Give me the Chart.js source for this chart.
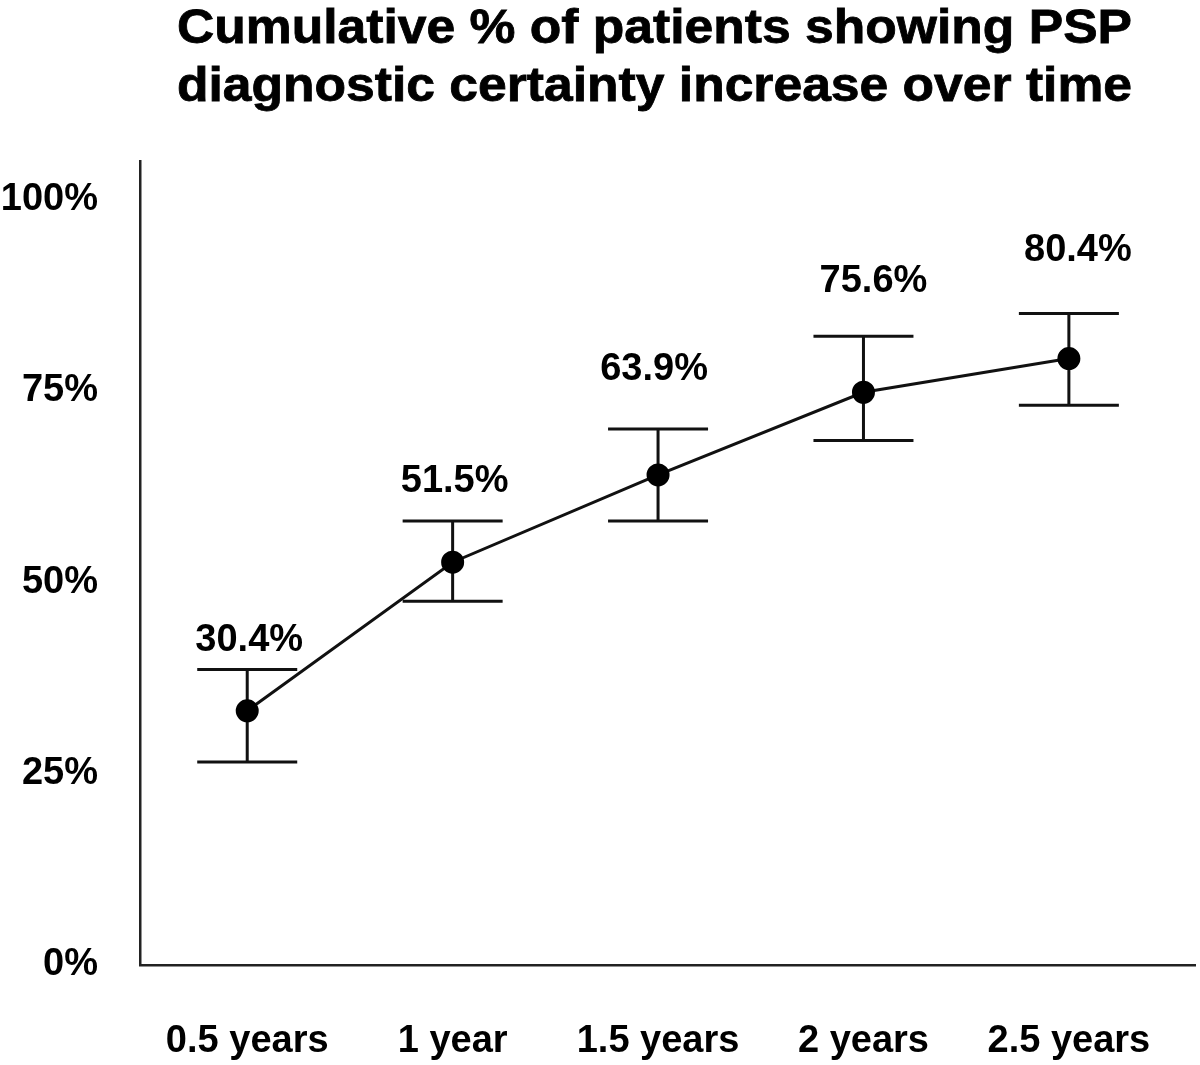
<!DOCTYPE html>
<html lang="en">
<head>
<meta charset="UTF-8">
<title>Cumulative % of patients showing PSP diagnostic certainty increase over time</title>
<script src="https://cdn.jsdelivr.net/npm/chart.js"></script>
<style>
  body, html { margin: 0; padding: 0; background: #fff; overflow: hidden; }
  #wrap { width: 1200px; height: 1065px; }
</style>
</head>
<body>
<div id="wrap"><canvas id="chart"></canvas></div>
<script>
const titleLines = ['Cumulative % of patients showing PSP', 'diagnostic certainty increase over time'];
const timepoints = [0.5, 1, 1.5, 2, 2.5];
const timeLabels = ['0.5 years', '1 year', '1.5 years', '2 years', '2.5 years'];
const meanPct = [33.2, 52.6, 64.0, 74.8, 79.2];
const upperPct = [38.6, 58.0, 70.0, 82.1, 85.1];
const lowerPct = [26.5, 47.5, 58.0, 68.5, 73.1];
const valueLabels = ['30.4%', '51.5%', '63.9%', '75.6%', '80.4%'];
const yTicks = [0, 25, 50, 75, 100];

// nudges for the % labels, px above the upper cap / sideways
const labelGap = [29, 39, 59, 55, 63];
const labelDx = [2, 2, -4, 10, 9];

const FONT = "'Liberation Sans', Arial, sans-serif";
const INK = '#111';

const errorBars = {
    id: 'errorBars',
    beforeDatasetsDraw(chart) {
        const { ctx, scales: { x, y } } = chart;
        ctx.save();
        ctx.strokeStyle = INK;
        ctx.lineWidth = 3;
        timepoints.forEach((t, i) => {
            const px = x.getPixelForValue(t);
            const top = y.getPixelForValue(upperPct[i]);
            const bot = y.getPixelForValue(lowerPct[i]);
            ctx.beginPath();
            ctx.moveTo(px, top); ctx.lineTo(px, bot);
            ctx.moveTo(px - 50, top); ctx.lineTo(px + 50, top);
            ctx.moveTo(px - 50, bot); ctx.lineTo(px + 50, bot);
            ctx.stroke();
        });
        ctx.restore();
    },
    afterDatasetsDraw(chart) {
        const { ctx, scales: { x, y } } = chart;
        ctx.save();
        ctx.fillStyle = '#000';
        ctx.font = `bold 38px ${FONT}`;
        ctx.textAlign = 'center';
        ctx.textBaseline = 'middle';
        timepoints.forEach((t, i) => {
            const px = x.getPixelForValue(t) + labelDx[i];
            const top = y.getPixelForValue(upperPct[i]);
            ctx.fillText(valueLabels[i], px, top - labelGap[i]);
        });
        ctx.restore();
    }
};

// title in the source is a wide-set heavy sans: stretch it to its span
const stretchedTitle = {
    id: 'stretchedTitle',
    afterDraw(chart) {
        const ctx = chart.ctx;
        const left = 177, span = 955;
        const baselines = [43, 101];
        ctx.save();
        ctx.fillStyle = '#000';
        ctx.strokeStyle = '#000';
        ctx.lineWidth = 0.8;
        ctx.font = `bold 48px ${FONT}`;
        ctx.textAlign = 'left';
        ctx.textBaseline = 'alphabetic';
        titleLines.forEach((line, i) => {
            const w = ctx.measureText(line).width;
            ctx.save();
            ctx.translate(left, baselines[i]);
            ctx.scale(span / w, 1);
            ctx.fillText(line, 0, 0);
            ctx.strokeText(line, 0, 0);
            ctx.restore();
        });
        ctx.restore();
    }
};

const tickFont = { family: FONT, size: 38, weight: 'bold' };

new Chart(document.getElementById('chart'), {
    type: 'line',
    data: {
        datasets: [{
            data: timepoints.map((t, i) => ({ x: t, y: meanPct[i] })),
            borderColor: INK,
            borderWidth: 3,
            pointBackgroundColor: '#000',
            pointBorderColor: '#000',
            pointRadius: 10,
            tension: 0
        }]
    },
    options: {
        responsive: true,
        maintainAspectRatio: false,
        animation: false,
        layout: { autoPadding: false, padding: { top: 161, right: 5, left: 0, bottom: 0 } },
        plugins: { legend: { display: false }, tooltip: { enabled: false }, title: { display: false } },
        scales: {
            x: {
                type: 'linear',
                min: 0.239,
                max: 2.807,
                grid: { display: false, drawTicks: false },
                border: { display: true, color: '#222', width: 2.5 },
                ticks: {
                    padding: 54,
                    color: '#000',
                    font: tickFont,
                    callback: v => timeLabels[timepoints.indexOf(v)] ?? ''
                },
                afterBuildTicks: s => { s.ticks = timepoints.map(v => ({ value: v })); },
                afterFit: s => { s.height = 100; s.paddingLeft = 0; s.paddingRight = 0; }
            },
            y: {
                min: 0,
                max: 105,
                grid: { display: false, drawTicks: false },
                border: { display: true, color: '#222', width: 2.5 },
                ticks: {
                    padding: 42,
                    color: '#000',
                    font: tickFont,
                    callback: v => v + '%'
                },
                afterBuildTicks: s => { s.ticks = yTicks.map(v => ({ value: v })); },
                afterFit: s => { s.width = 140; }
            }
        }
    },
    plugins: [errorBars, stretchedTitle]
});
</script>
</body>
</html>
